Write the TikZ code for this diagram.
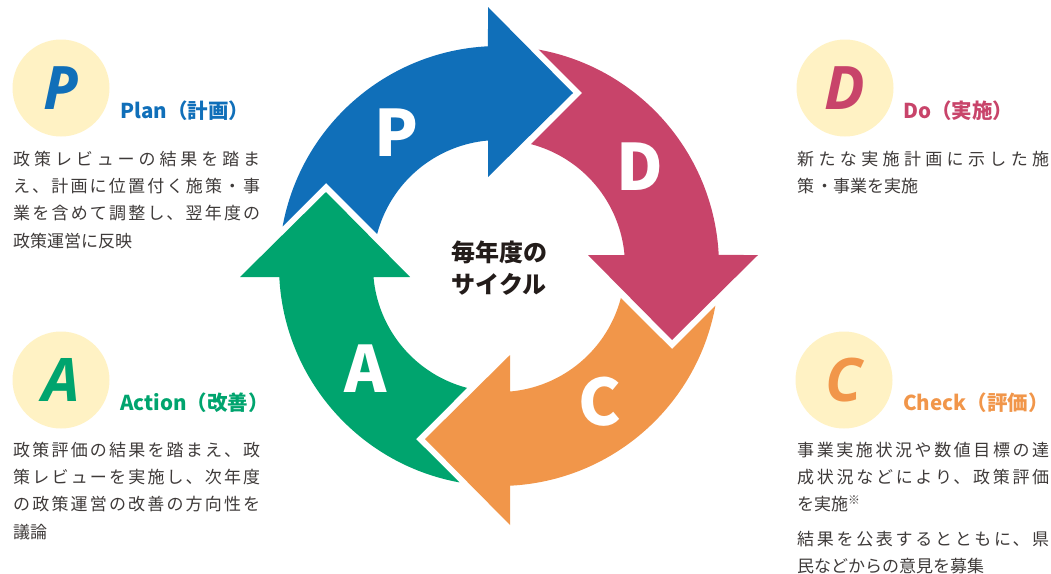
\documentclass[tikz,border=0pt]{standalone}
\usepackage{fontspec}
\setmainfont{Noto Sans CJK JP}
\newfontfamily\bodyfont{Noto Sans CJK JP}[LetterSpace=11]
\newfontfamily\initfont{Open Sans}
\XeTeXlinebreaklocale "ja"
\XeTeXlinebreakskip=0pt plus 5pt\relax
\tolerance=9999\relax
\usetikzlibrary{positioning}
\definecolor{planblue}{RGB}{16,111,185}
\definecolor{docrimson}{RGB}{200,68,106}
\definecolor{checkorange}{RGB}{241,150,74}
\definecolor{actgreen}{RGB}{0,164,110}
\definecolor{circleyellow}{RGB}{255,242,196}
\definecolor{bodygray}{RGB}{62,58,57}
\definecolor{centerdark}{RGB}{35,28,26}

\begin{document}
\begin{tikzpicture}[
        x=1pt, y=1pt,
        initial/.style={circle, fill=circleyellow, minimum size=97pt, inner sep=0pt,
            font=\initfont\bfseries\itshape\fontsize{60}{60}\selectfont},
        heading/.style={anchor=base west, inner sep=0pt, font=\bfseries\fontsize{20.5}{24}\selectfont},
        body/.style={anchor=north west, align=justify, inner sep=0pt, text=bodygray, text width=#1,
            font=\bodyfont\fontsize{17}{27.2}\selectfont},
        body/.default=247pt,
        letter/.style={text=white, font=\bfseries\fontsize{64}{64}\selectfont}
    ]
        \useasboundingbox (0,0) rectangle (1051,-573);

        % cycle of four arrows
        \begin{scope}[shift={(499,-266)}]
            \foreach \col/\rot in {planblue/0, docrimson/-90, checkorange/-180, actgreen/-270}
                \fill[\col, rotate=\rot] (169.63:220) arc[start angle=169.63, end angle=92.87, radius=220]
                    -- (-11,259) -- (74,173) -- (-11,89) -- (95.01:126)
                    arc[start angle=95.01, end angle=165.33, radius=126] -- (-173,83) -- cycle;
            \node[letter] (pletter) at (127.5:168) {P};
            \node[letter] (dletter) at (35.2:172.5) {D};
            \node[letter] (cletter) at (-53.2:169) {C};
            \node[letter] (aletter) at (217.7:168.5) {A};
            \node[align=center, text=centerdark, font=\bfseries\fontsize{24}{31.5}\selectfont] (cycle) at (0,-2) {毎年度の\\サイクル};
        \end{scope}

        % Plan
        \node[initial, text=planblue] (pcircle) at (61,-88) {P};
        \node[heading, text=planblue] (phead) at (120,-118) {Plan（計画）};
        \node[body] (pbody) at (13,-151) {政策レビューの結果を踏ま\linebreak え、計画に位置付く施策・事\linebreak 業を含めて調整し、翌年度の\linebreak 政策運営に反映};

        % Do
        \node[initial, text=docrimson] (dcircle) at (845,-88) {D};
        \node[heading, text=docrimson] (dhead) at (903,-118) {Do（実施）};
        \node[body=252pt] (dbody) at (797,-151) {新たな実施計画に示した施\linebreak 策・事業を実施};

        % Action
        \node[initial, text=actgreen] (acircle) at (61,-380) {A};
        \node[heading, text=actgreen] (ahead) at (120,-410) {Action（改善）};
        \node[body] (abody) at (13,-442) {政策評価の結果を踏まえ、政\linebreak 策レビューを実施し、次年度\linebreak の政策運営の改善の方向性を\linebreak 議論};

        % Check
        \node[initial, text=checkorange] (ccircle) at (844,-380) {C};
        \node[heading, text=checkorange] (chead) at (903,-410) {Check（評価）};
        \node[body=252pt] (cbody) at (797,-442) {事業実施状況や数値目標の達\linebreak 成状況などにより、政策評価\linebreak を実施\textsuperscript{※}\par\vspace{7pt}結果を公表するとともに、県\linebreak 民などからの意見を募集};
    \end{tikzpicture}
\end{document}
